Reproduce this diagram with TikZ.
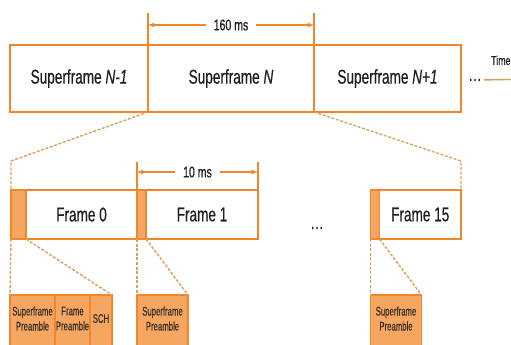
\documentclass[tikz,border=0pt]{standalone}
\usepackage{fontspec}
\setmainfont[FakeStretch=0.68,FakeBold=0.4]{Liberation Sans}
\newfontfamily\narrowfont[FakeStretch=0.62,FakeBold=0.3]{Liberation Sans}
\usetikzlibrary{positioning}
\definecolor{boxorange}{RGB}{240,135,45}
\definecolor{fillorange}{RGB}{246,166,96}
\definecolor{zoomtan}{RGB}{218,160,100}
\definecolor{textgray}{RGB}{30,30,30}
\tikzset{
  >=latex,
  {box line/.style} ={draw=boxorange, line width=1.8pt},
  {super box/.style} ={box line, rectangle, inner sep=0, outer sep=0,
                minimum height=67pt, text=textgray,
                font=\fontsize{20}{22}\selectfont},
  {frame box/.style} ={super box, minimum height=49pt},
  {pre box/.style} ={frame box, fill=fillorange},
  {field box/.style} ={box line, fill=fillorange, rectangle, inner sep=0,
                outer sep=0, minimum height=54pt, align=center,
                text=textgray!85!brown, text depth=7pt,
                font=\narrowfont\fontsize{12.5}{15}\selectfont},
  {tick line/.style} ={draw=boxorange, line width=1.3pt},
  {dim arrow/.style} ={draw=boxorange, line width=1.2pt, <->},
  {dim label/.style} ={fill=white, text=textgray, inner xsep=8pt,
                font=\fontsize{15.5}{17}\selectfont},
  {zoom line/.style} ={draw=zoomtan, line width=1.4pt,
                dash pattern=on 3pt off 1.6pt},
  {dots/.style} ={text=textgray, inner sep=2pt,
                font=\fontsize{20}{22}\selectfont},
  {time label/.style} ={text=textgray, inner sep=0,
                font=\fontsize{13}{14}\selectfont},
  {time line/.style} ={draw=zoomtan, line width=1.4pt},
}
\begin{document}
\begin{tikzpicture}[x=1pt,y=-1pt]
\useasboundingbox (0,0) rectangle (511,345);
% superframes
\node[super box, minimum width=138pt, anchor=north west] (sfprev) at (10,45) {Superframe \textit{N-1}};
\node[super box, minimum width=166pt, right=0pt of sfprev] (sfcur) {Superframe \textit{N}};
\node[super box, minimum width=147pt, right=0pt of sfcur] (sfnext) {Superframe \textit{N+1}};
\node[dots, anchor=base] (sfdots) at (475,81) {\ldots};
\node[time label, anchor=base west] (time) at (491,65) {Time};
\coordinate (timeend) at (535,79);
\draw[time line,->] (sfdots.east) -- (timeend);
% 160 ms
\coordinate (sftickl) at (148,13);
\coordinate (sftickr) at (314,13);
\coordinate (sfarrowl) at (148,25);
\coordinate (sfarrowr) at (314,25);
\draw[tick line] (sfcur.north west) -- (sftickl);
\draw[tick line] (sfcur.north east) -- (sftickr);
\draw[dim arrow] (sfarrowl) -- node[dim label] {160 ms} (sfarrowr);
% frames
\node[pre box, minimum width=15pt, anchor=north west] (pre0) at (11,190) {};
\node[frame box, minimum width=111pt, right=0pt of pre0] (frame0) {Frame 0};
\node[pre box, minimum width=9pt, right=0pt of frame0] (pre1) {};
\node[frame box, minimum width=112pt, right=0pt of pre1] (frame1) {Frame 1};
\node[dots, anchor=base] (framedots) at (317,229) {\ldots};
\node[pre box, minimum width=9pt, anchor=north west] (pre15) at (370.5,190) {};
\node[frame box, minimum width=81.5pt, right=0pt of pre15] (frame15) {Frame 15};
% 10 ms
\coordinate (ftickl) at (137,162);
\coordinate (ftickr) at (258,162);
\coordinate (farrowl) at (137,172);
\coordinate (farrowr) at (258,172);
\draw[tick line] (pre1.north west) -- (ftickl);
\draw[tick line] (frame1.north east) -- (ftickr);
\draw[dim arrow] (farrowl) -- node[dim label] {10 ms} (farrowr);
% zoom superframe -> frames
\coordinate (zoomleft) at (11,161);
\coordinate (zoomright) at (461,161);
\draw[zoom line] (sfcur.south west) -- (zoomleft) -- (pre0.north west);
\draw[zoom line] (sfcur.south east) -- (zoomright) -- (frame15.north east);
% fields
\node[field box, minimum width=45pt, anchor=north west] (sfpre0) at (10,295) {Superframe\\Preamble};
\node[field box, minimum width=35pt, right=0pt of sfpre0] (fpre0) {Frame\\Preamble};
\node[field box, minimum width=22pt, right=0pt of fpre0] (sch0) {SCH};
\node[field box, minimum width=51pt, anchor=north west] (sfpre1) at (137,295) {Superframe\\Preamble};
\node[field box, minimum width=51pt, anchor=north west] (sfpre15) at (370.5,295) {Superframe\\Preamble};
\draw[zoom line] (pre0.south west) -- (sfpre0.north west);
\draw[zoom line] (pre0.south east) -- (sch0.north east);
\draw[zoom line] (pre1.south west) -- (sfpre1.north west);
\draw[zoom line] (pre1.south east) -- (sfpre1.north east);
\draw[zoom line] (pre15.south west) -- (sfpre15.north west);
\draw[zoom line] (pre15.south east) -- (sfpre15.north east);
\end{tikzpicture}
\end{document}
